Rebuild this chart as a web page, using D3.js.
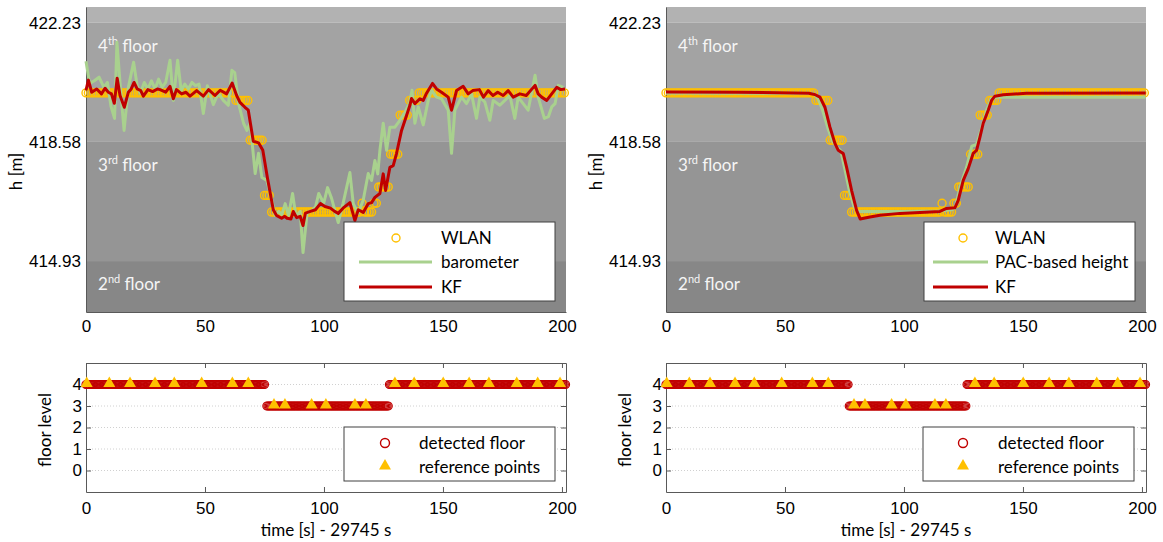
<!DOCTYPE html>
<html>
<head>
<meta charset="utf-8">
<script src="https://cdn.jsdelivr.net/npm/d3@7"></script>
<style>
  html, body { margin: 0; padding: 0; background: #fff; }
  svg { display: block; font-family: Lato, "Open Sans", sans-serif; }
</style>
</head>
<body>
<svg id="chart" width="1163" height="542"></svg>
<script>
// ---------- data ----------
const timeTicks = [0, 50, 100, 150, 200];
const heightTicks = [414.93, 418.58, 422.23];
const floorLabels = [["2", "nd"], ["3", "rd"], ["4", "th"]];
const floorTicks = [0, 1, 2, 3, 4];

// WLAN height estimates (1 s epochs), stored as constant runs
const wlanFrom  = [0,      63,     69,     75,     78,     116,   117,    121,   123,   128,   132,   136,    140];
const wlanTo    = [62,     68,     74,     77,     115,    116,   120,    122,   127,   131,   135,   139,    201];
const wlanLevel = [420.08, 419.85, 418.63, 416.94, 416.43, 416.7, 416.43, 416.7, 417.2, 418.2, 419.4, 419.85, 420.08];

// barometric height (left)
const baroT = [0, 1.5, 3.5, 5.5, 7.5, 9, 10.5, 12, 13, 14.5, 16, 17.8, 20, 21.5, 22.8, 24.5, 26, 27.5, 29, 30.5,
  32, 33.5, 35.3, 36.7, 38.5, 40, 41.5, 43, 44.5, 46, 47.5, 49.3, 51, 53.5, 55.6, 57.7, 59.8, 61.3, 62.5, 64.1,
  66.2, 67.6, 69, 71.1, 72.5, 73.9, 76, 78.1, 79.5, 81, 82.3, 83.7, 85.1, 86.8, 88.2, 90, 91.2, 92.9, 95, 96.5,
  97.8, 99.9, 101.5, 103.2, 106, 108, 110.9, 112.3, 114.4, 116.5, 118.6, 120, 121.4, 122.6, 123.5, 124.9, 126.3, 127.7, 129.8, 131.9,
  134, 136.1, 137, 138.2, 139.6, 141.7, 143.8, 145.2, 147.3, 149.4, 152.2, 153.6, 155, 157.8, 159.9, 162, 164.1, 165.5, 167.6, 169.7,
  171.1, 173.9, 176, 178.1, 180.2, 181.6, 183.7, 185.8, 188.7, 190, 192.6, 194.3, 195.7, 197.1, 198.5, 200.6];
const baroH = [421.05, 420.37, 420.45, 420.56, 420.25, 420.40, 419.67, 419.30, 421.63, 420.2, 418.93, 420.25, 421.02, 420.3, 420.07, 420.4, 420.2, 420.45, 420.2, 420.5,
  420.25, 420.4, 421.08, 419.85, 421.08, 420.15, 420.35, 420.2, 420.4, 420.3, 420.35, 419.45, 420.3, 419.72, 420.07, 419.85, 419.70, 420.77, 420.70, 419.76,
  419.15, 418.93, 419.15, 417.61, 418.23, 417.49, 417.40, 416.79, 416.33, 416.45, 416.35, 416.69, 416.33, 417.00, 416.30, 416.45, 415.19, 416.4, 416.48, 416.6,
  417.00, 416.7, 417.18, 416.85, 416.11, 416.69, 417.64, 416.69, 416.39, 416.8, 417.61, 417.4, 418.01, 417.6, 418.32, 419.15, 418.32, 419.03, 419.03, 419.24,
  419.48, 419.79, 420.16, 419.15, 419.65, 419.1, 419.85, 420.16, 419.95, 419.9, 419.55, 418.23, 419.55, 419.95, 419.75, 420.05, 419.3, 419.95, 419.8, 419.24,
  419.85, 419.7, 419.85, 420.0, 419.3, 419.95, 419.75, 419.55, 420.62, 419.95, 419.3, 419.35, 419.65, 419.75, 420.31, 420.25];

// Kalman filter output (left)
const kfT = [0, 1, 2.4, 4.5, 6.5, 8, 9.4, 10.7, 11.9, 13.1, 14.3, 16.1, 17.8, 19, 20.2, 21.5, 23, 24.1, 26, 28,
  30, 31.1, 33.5, 35.3, 36.7, 38, 40.2, 42, 43.7, 46.5, 49.3, 51.5, 54.2, 56.4, 59.1, 61.4, 63.3, 64.7, 66.8, 68.2,
  70.3, 72.5, 74.3, 76.3, 78.7, 80, 82.2, 83.5, 84.5, 86.1, 87.1, 88.5, 90, 91.2, 92.2, 94.3, 96.4, 98.5, 100.4, 102.7,
  104.5, 106, 108, 110.9, 113, 114.4, 116.5, 118.6, 120, 121.4, 123.5, 124.9, 125.9, 127.7, 129.1, 130.5, 132.6, 134.7, 136.1, 136.8,
  138.2, 140.3, 141.7, 143.1, 145.6, 147.3, 149.4, 152.2, 153.6, 155.7, 158.5, 160.6, 162.5, 165.3, 167, 169, 171, 173, 175.3, 177.4,
  179.5, 182.3, 185, 188.7, 190, 191.5, 193.6, 195.7, 197.8, 199.5, 201.3];
const kfH = [420.16, 420.47, 420.1, 420.2, 420.05, 420.22, 420.1, 420.05, 419.76, 420.53, 420.0, 419.64, 420.1, 420.2, 420.4, 420.2, 420.15, 419.98, 420.18, 420.12,
  420.2, 420.18, 420.1, 420.28, 419.9, 420.18, 420.05, 420.1, 419.98, 420.15, 419.98, 420.18, 420.0, 420.16, 420.05, 420.38, 420.0, 419.79, 419.64, 419.55,
  418.6, 418.55, 418.32, 417.45, 416.5, 416.33, 416.24, 416.3, 416.24, 416.22, 416.45, 416.26, 416.3, 416.02, 416.4, 416.45, 416.5, 416.69, 416.6, 416.55,
  416.45, 416.39, 416.55, 416.72, 416.17, 416.5, 416.42, 416.69, 416.72, 416.88, 417.0, 417.6, 417.09, 417.8, 417.85, 418.23, 418.93, 419.39, 419.7, 419.91,
  419.75, 419.9, 419.85, 420.07, 420.37, 420.2, 420.1, 419.95, 419.55, 420.15, 420.28, 420.05, 420.15, 420.18, 419.95, 420.15, 420.0, 420.1, 420.0, 420.15,
  419.95, 420.05, 420.0, 420.31, 420.05, 419.95, 419.85, 420.05, 420.25, 420.18, 420.2];

// PAC-based height (right)
const pacT = [0, 62, 64, 66, 68, 70, 71.5, 73.5, 75, 77, 79, 80.5, 90, 100, 115, 120, 121.5, 123.5, 126.3, 128.5, 130.5, 132.6, 134.7, 136.8, 139, 150, 201.5];
const pacH = [420.08, 420.06, 419.9, 419.5, 419.0, 418.6, 418.45, 418.3, 417.8, 417.1, 416.6, 416.45, 416.45, 416.45, 416.46, 416.5, 416.55, 417.18, 417.8, 418.45, 418.5, 418.99, 419.55, 419.91, 419.95, 419.95, 419.95];

// Kalman filter output (right)
const kfRT = [0, 30, 60, 62.5, 64.7, 66.8, 68.9, 71, 72.4, 74.5, 75.9, 78, 80.1, 81.6, 85.7, 89.9, 98.3, 115.1, 117.9, 121.4, 122.8, 124.9, 127, 129.1, 130.5, 131.9, 133.3, 135.4, 136.8, 138.2, 141.7, 151.5, 201.6];
const kfRH = [420.11, 420.10, 420.07, 420.03, 419.95, 419.64, 419.03, 418.53, 418.32, 418.22, 417.8, 417.09, 416.48, 416.22, 416.28, 416.33, 416.39, 416.45, 416.54, 416.56, 416.79, 417.4, 417.76, 418.23, 418.32, 418.72, 419.15, 419.55, 419.85, 419.98, 420.02, 420.07, 420.08];

// detected floor runs (0.5 s epochs)
const detFromL = [0, 76, 127.5], detToL = [75, 127, 201.5], detFloorL = [4, 3, 4];
const detFromR = [0, 77, 126.5], detToR = [76.5, 126, 201.5], detFloorR = [4, 3, 4];

// reference points
const refT = [0.3, 9.8, 18.5, 29, 37.1, 48.6, 61.5, 68.2, 79, 83.6, 94.8, 100.8, 113, 117.6, 129.8, 137.9, 150.1, 161, 169.3, 181, 189.8, 199.2];
const refFloor = [4, 4, 4, 4, 4, 4, 4, 4, 3, 3, 3, 3, 3, 3, 4, 4, 4, 4, 4, 4, 4, 4];

// ---------- helpers ----------
function expandRuns(from, to, level, step) {
  const out = [];
  from.forEach((f, i) => { for (let t = f; t <= to[i] + 1e-9; t += step) out.push([t, level[i]]); });
  return out;
}
const wlan = expandRuns(wlanFrom, wlanTo, wlanLevel, 1);

const svg = d3.select("#chart");
const FS = 17;
const C = { wlan: "#ffc000", green: "#a9d18e", red: "#c00000", axis: "#595959", text: "#000" };

function heightPanel(ox, heightSeries, seriesName) {
  const x = d3.scaleLinear().domain([0, 201.7]).range([ox + 86, ox + 566]);
  const y = d3.scaleLinear().domain([413.37, 422.71]).range([312, 7]);
  const g = svg.append("g");
  const [x0, x1] = x.range();
  const yTop = y.range()[1], yBot = y.range()[0];

  // floor bands
  const bands = [
    { lo: heightTicks[2], hi: 422.71, fill: "#b2b2b2" },
    { lo: heightTicks[1], hi: heightTicks[2], fill: "#a3a3a3" },
    { lo: heightTicks[0], hi: heightTicks[1], fill: "#959595" },
    { lo: 413.37, hi: heightTicks[0], fill: "#878787" }
  ];
  g.selectAll("rect.band").data(bands).join("rect")
    .attr("x", x0).attr("width", x1 - x0)
    .attr("y", d => y(d.hi)).attr("height", d => y(d.lo) - y(d.hi))
    .attr("fill", d => d.fill);

  // floor names
  const lbl = g.selectAll("text.floor").data([0, 1, 2]).join("text")
    .attr("x", x0 + 12)
    .attr("y", i => y(heightTicks[i]) + 29)
    .attr("fill", "#f5f5f5").attr("font-size", FS);
  lbl.append("tspan").text(i => floorLabels[i][0]);
  lbl.append("tspan").attr("font-size", 11).attr("dy", -7).text(i => floorLabels[i][1]);
  lbl.append("tspan").attr("dy", 7).text(" floor");

  // axes
  const ax = g.append("g").attr("transform", `translate(0,${yBot})`)
    .call(d3.axisBottom(x).tickValues(timeTicks).tickSize(0).tickPadding(8));
  ax.select(".domain").attr("stroke", C.axis);
  ax.selectAll("text").attr("font-size", FS).attr("fill", C.text).attr("font-family", null);
  const ay = g.append("g").attr("transform", `translate(${x0},0)`)
    .call(d3.axisLeft(y).tickValues(heightTicks).tickFormat(d3.format(".2f")).tickSize(0).tickPadding(5));
  ay.select(".domain").attr("stroke", C.axis);
  ay.selectAll("text").attr("font-size", FS).attr("fill", C.text).attr("font-family", null);

  g.append("text").attr("transform", `translate(${ox + 22},${(yTop + yBot) / 2 + 12}) rotate(-90)`)
    .attr("text-anchor", "middle").attr("font-size", FS).attr("fill", C.text).text("h [m]");

  // WLAN circles
  g.append("g").selectAll("circle").data(wlan).join("circle")
    .attr("cx", d => x(d[0])).attr("cy", d => y(d[1])).attr("r", 4)
    .attr("fill", "none").attr("stroke", C.wlan).attr("stroke-width", 1.4);

  const line = d3.line().x(d => x(d[0])).y(d => y(d[1]));
  g.append("path").datum(d3.zip(heightSeries[0], heightSeries[1])).attr("d", line)
    .attr("fill", "none").attr("stroke", C.green).attr("stroke-width", 3).attr("stroke-linejoin", "round");
  g.append("path").datum(d3.zip(heightSeries[2], heightSeries[3])).attr("d", line)
    .attr("fill", "none").attr("stroke", C.red).attr("stroke-width", 3).attr("stroke-linejoin", "round");

  // legend
  const lx = ox + 344, ly = 222;
  const lg = g.append("g");
  lg.append("rect").attr("x", lx).attr("y", ly).attr("width", 211).attr("height", 79)
    .attr("fill", "#fff").attr("stroke", "#404040").attr("stroke-width", 1);
  const wide = seriesName.length > 10;
  const mx = wide ? ox + 383 : ox + 396;
  const l0 = wide ? ox + 353 : ox + 359, l1 = wide ? ox + 408 : ox + 432;
  const tx = wide ? ox + 415 : ox + 441;
  lg.append("circle").attr("cx", mx).attr("cy", ly + 16).attr("r", 4)
    .attr("fill", "none").attr("stroke", C.wlan).attr("stroke-width", 1.4);
  lg.append("line").attr("x1", l0).attr("x2", l1).attr("y1", ly + 40).attr("y2", ly + 40)
    .attr("stroke", C.green).attr("stroke-width", 3);
  lg.append("line").attr("x1", l0).attr("x2", l1).attr("y1", ly + 65).attr("y2", ly + 65)
    .attr("stroke", C.red).attr("stroke-width", 3);
  lg.selectAll("text").data(["WLAN", seriesName, "KF"]).join("text")
    .attr("x", tx).attr("y", (d, i) => ly + 16 + i * 24.5).attr("dy", "0.35em")
    .attr("font-size", FS).attr("fill", C.text).text(d => d);
}

function floorPanel(ox, detFrom, detTo, detFloor) {
  const x = d3.scaleLinear().domain([0, 201.7]).range([ox + 86, ox + 566]);
  const y = d3.scaleLinear().domain([-1, 5]).range([492, 363]);
  const g = svg.append("g");
  const [x0, x1] = x.range();

  // grid
  g.selectAll("line.grid").data(floorTicks).join("line")
    .attr("x1", x0).attr("x2", x1).attr("y1", d => y(d)).attr("y2", d => y(d))
    .attr("stroke", "#d0d0d0").attr("stroke-dasharray", "1,2");

  // frame and ticks
  const styleAxis = sel => {
    sel.select(".domain").attr("stroke", C.axis);
    sel.selectAll(".tick line").attr("stroke", C.axis);
    sel.selectAll("text").attr("font-size", FS).attr("fill", C.text).attr("font-family", null);
  };
  g.append("g").attr("transform", "translate(0,492)")
    .call(d3.axisBottom(x).tickValues(timeTicks).tickSizeInner(-5).tickSizeOuter(0).tickPadding(10)).call(styleAxis);
  g.append("g").attr("transform", "translate(0,363)")
    .call(d3.axisTop(x).tickValues(timeTicks).tickSizeInner(-5).tickSizeOuter(0).tickFormat("")).call(styleAxis);
  g.append("g").attr("transform", `translate(${x0},0)`)
    .call(d3.axisLeft(y).tickValues(floorTicks).tickFormat(d3.format("d")).tickSizeInner(-5).tickSizeOuter(0).tickPadding(4)).call(styleAxis);
  g.append("g").attr("transform", `translate(${x1},0)`)
    .call(d3.axisRight(y).tickValues(floorTicks).tickSizeInner(-5).tickSizeOuter(0).tickFormat("")).call(styleAxis);

  g.append("text").attr("transform", `translate(${ox + 51},430) rotate(-90)`)
    .attr("text-anchor", "middle").attr("font-size", FS).attr("fill", C.text).text("floor level");
  g.append("text").attr("x", (x0 + x1) / 2).attr("y", 536)
    .attr("text-anchor", "middle").attr("font-size", FS).attr("fill", C.text).text("time [s] - 29745 s");

  // detected floor circles
  g.append("g").selectAll("circle").data(expandRuns(detFrom, detTo, detFloor, 0.5)).join("circle")
    .attr("cx", d => x(d[0])).attr("cy", d => y(d[1])).attr("r", 4)
    .attr("fill", "none").attr("stroke", C.red).attr("stroke-width", 1.2);

  // reference points
  const tri = d3.symbol().type(d3.symbolTriangle).size(62);
  g.append("g").selectAll("path").data(d3.zip(refT, refFloor)).join("path")
    .attr("transform", d => `translate(${x(d[0])},${y(d[1]) - 1})`).attr("d", tri)
    .attr("fill", C.wlan);

  // legend
  const lx = ox + 344, ly = 427;
  const wide = ox > 0;
  g.append("rect").attr("x", wide ? lx - 1 : lx).attr("y", ly).attr("width", 211).attr("height", 54)
    .attr("fill", "#fff").attr("stroke", "#404040").attr("stroke-width", 1);
  const mx = wide ? ox + 383 : ox + 385, tx = wide ? ox + 418 : ox + 419;
  g.append("circle").attr("cx", mx).attr("cy", ly + 16).attr("r", 4.5)
    .attr("fill", "none").attr("stroke", C.red).attr("stroke-width", 1.4);
  g.append("path").attr("transform", `translate(${mx},${ly + 39})`).attr("d", tri).attr("fill", C.wlan);
  g.selectAll("text.leg").data(["detected floor", "reference points"]).join("text")
    .attr("x", tx).attr("y", (d, i) => ly + 16 + i * 24).attr("dy", "0.35em")
    .attr("font-size", FS).attr("fill", C.text).text(d => d);
}

heightPanel(0, [baroT, baroH, kfT, kfH], "barometer");
heightPanel(580, [pacT, pacH, kfRT, kfRH], "PAC-based height");
floorPanel(0, detFromL, detToL, detFloorL);
floorPanel(580, detFromR, detToR, detFloorR);
</script>
</body>
</html>
